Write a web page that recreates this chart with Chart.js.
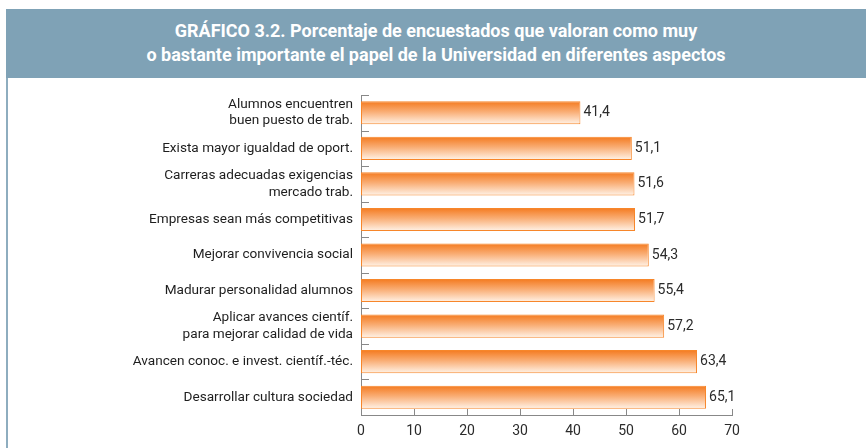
<!DOCTYPE html>
<html>
<head>
<meta charset="utf-8">
<script src="https://cdn.jsdelivr.net/npm/chart.js@4"></script>
<style>
  html, body { margin: 0; padding: 0; background: #fff; }
  body { width: 866px; height: 448px; position: relative; overflow: hidden; }
  #banner {
    position: absolute; left: 6px; top: 9px; width: 860px; height: 69px;
    background: #7fa2b6; color: #fff; text-align: center;
    font: bold 18px Roboto, sans-serif; line-height: 24px;
    box-sizing: border-box; padding-top: 10px;
  }
  #borde { position: absolute; left: 6px; top: 78px; width: 2px; height: 370px; background: #8eadbf; }
  #wrap { position: absolute; left: 0; top: 78px; width: 866px; height: 370px; }
</style>
</head>
<body>
<div id="banner">GRÁFICO 3.2. Porcentaje de encuestados que valoran como muy<br>o bastante importante el papel de la Universidad en diferentes aspectos</div>
<div id="borde"></div>
<div id="wrap"><canvas id="grafico"></canvas></div>
<script>
const categorias = [
  ['Alumnos encuentren', 'buen puesto de trab.'],
  'Exista mayor igualdad de oport.',
  ['Carreras adecuadas exigencias', 'mercado trab.'],
  'Empresas sean más competitivas',
  'Mejorar convivencia social',
  'Madurar personalidad alumnos',
  ['Aplicar avances científ.', 'para mejorar calidad de vida'],
  'Avancen conoc. e invest. científ.-téc.',
  'Desarrollar cultura sociedad'
];
const valores = [41.4, 51.1, 51.6, 51.7, 54.3, 55.4, 57.2, 63.4, 65.1];
const ticksX = [0, 10, 20, 30, 40, 50, 60, 70];

const naranja = '#f7862a';

// degradado vertical dentro de cada barra
function degradado(context) {
  const chart = context.chart;
  if (!chart.chartArea || !chart.scales.y) return naranja;
  const y = chart.scales.y.getPixelForValue(context.dataIndex);
  const h = 11.5;
  const g = chart.ctx.createLinearGradient(0, y - h, 0, y + h);
  g.addColorStop(0, '#f47a1f');
  g.addColorStop(0.45, '#f9ad74');
  g.addColorStop(1, '#fff3e8');
  return g;
}

// etiquetas de valor al final de cada barra
const etiquetas = {
  id: 'etiquetas',
  afterDatasetsDraw(chart) {
    const c = chart.ctx;
    const meta = chart.getDatasetMeta(0);
    c.save();
    c.font = '14px Roboto, sans-serif';
    c.fillStyle = '#2b2b2b';
    c.textBaseline = 'middle';
    c.textAlign = 'left';
    meta.data.forEach((bar, i) => {
      c.fillText(valores[i].toFixed(1).replace('.', ','), bar.x + 3, bar.y);
    });
    c.restore();
  }
};

// marcas de los ejes hacia dentro
const marcas = {
  id: 'marcas',
  afterDraw(chart) {
    const c = chart.ctx;
    const x = chart.scales.x, y = chart.scales.y;
    const area = chart.chartArea;
    c.save();
    c.strokeStyle = '#888';
    c.lineWidth = 1;
    c.beginPath();
    for (let i = 0; i < categorias.length; i++) {
      const py = Math.round(y.getPixelForValue(i) - (y.getPixelForValue(1) - y.getPixelForValue(0)) / 2) + 0.5;
      c.moveTo(area.left, py);
      c.lineTo(area.left + 8, py);
    }
    ticksX.forEach(v => {
      if (v === 0) return;
      const px = Math.round(x.getPixelForValue(v)) + 0.5;
      c.moveTo(px, area.bottom);
      c.lineTo(px, area.bottom - 6);
    });
    c.stroke();
    c.restore();
  }
};

new Chart(document.getElementById('grafico'), {
  type: 'bar',
  data: {
    labels: categorias,
    datasets: [{
      data: valores,
      backgroundColor: degradado,
      borderColor: naranja,
      borderWidth: 1,
      borderSkipped: false,
      categoryPercentage: 1,
      barPercentage: 0.65
    }]
  },
  options: {
    indexAxis: 'y',
    responsive: true,
    maintainAspectRatio: false,
    animation: false,
    layout: { padding: { left: 0, right: 134, top: 17, bottom: 0 } },
    plugins: { legend: { display: false }, tooltip: { enabled: false } },
    scales: {
      x: {
        min: 0,
        max: 70,
        afterBuildTicks: s => { s.ticks = ticksX.map(v => ({ value: v })); },
        afterFit: s => { s.height = 33; },
        grid: { display: false, drawTicks: false },
        border: { display: true, color: '#888', width: 1 },
        ticks: { padding: 8, color: '#2b2b2b', font: { family: 'Roboto', size: 14 } }
      },
      y: {
        afterFit: s => { s.width = 361; },
        grid: { display: false, drawTicks: false },
        border: { display: true, color: '#888', width: 1 },
        ticks: { autoSkip: false, padding: 8, color: '#1e1e1e', font: { family: 'Roboto', size: 13.6, lineHeight: 1.22 } }
      }
    }
  },
  plugins: [etiquetas, marcas]
});
</script>
</body>
</html>
